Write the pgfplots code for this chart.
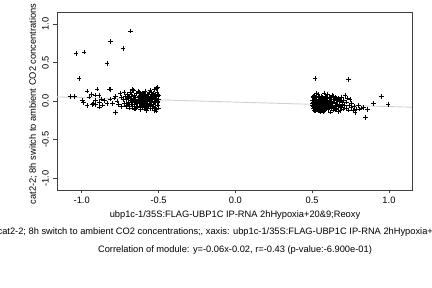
\documentclass[border=0pt]{standalone}
\usepackage{pgfplots}
\pgfplotsset{compat=1.18}
\usepackage{fontspec}
\setmainfont{Liberation Sans}
\begin{document}
\fontsize{9.3bp}{11bp}\selectfont
\begin{tikzpicture}[x=1bp,y=1bp]
\useasboundingbox (0,0) rectangle (432,288);
\clip (0,0) rectangle (432,288);
\begin{axis}[
  at={(57bp,98bp)}, anchor=south west,
  scale only axis, width=355bp, height=178bp,
  xmin=-1.161, xmax=1.150, ymin=-1.152, ymax=1.156,
  axis line style={black!75, line width=0.6bp},
  tick style={black!75, line width=0.6bp},
  tick align=outside, major tick length=3.5bp,
  xtick={-1,-0.5,0,0.5,1}, xticklabels={-1.0,-0.5,0.0,0.5,1.0},
  ytick={-1,-0.5,0,0.5,1}, yticklabels={-1.0,-0.5,0.0,0.5,1.0},
  xtick pos=bottom, ytick pos=left,
  xticklabel style={font=\fontsize{9.3bp}{11bp}\selectfont, anchor=center, yshift=-7bp},
  yticklabel style={font=\fontsize{9.3bp}{11bp}\selectfont, xshift=-8bp, rotate=90, anchor=center},
  clip=true,
]
\addplot[only marks, mark=+, mark size=2.3bp, black, line width=0.6bp] table {
-1.074 0.062
-1.046 0.064
-0.996 0.010
-0.987 -0.015
-0.965 0.130
-0.965 -0.060
-0.952 0.054
-0.937 0.084
-0.930 -0.040
-0.926 -0.030
-0.909 0.080
-0.909 0.015
-0.909 -0.045
-0.900 0.157
-0.887 0.070
-0.883 -0.075
-0.885 -0.020
-0.870 0.030
-0.865 -0.050
-0.850 0.010
-0.835 -0.030
-0.818 0.157
-0.813 0.150
-0.815 0.030
-0.800 -0.030
-0.790 0.040
-0.779 -0.144
-0.780 0.060
-0.770 0.000
-0.760 -0.040
-0.750 0.100
-0.745 0.050
-0.740 -0.070
-0.730 0.020
-0.725 0.110
-0.720 -0.030
-1.037 0.615
-0.985 0.637
-0.811 0.770
-0.681 0.910
-0.731 0.680
-0.835 0.487
-1.017 0.295
-0.712 0.021
-0.705 -0.052
-0.701 0.083
-0.698 -0.011
-0.694 0.044
-0.690 -0.088
-0.687 0.010
-0.683 0.121
-0.680 -0.035
-0.676 0.062
-0.673 -0.004
-0.670 -0.067
-0.667 0.035
-0.664 0.140
-0.661 -0.021
-0.658 0.078
-0.655 -0.103
-0.652 0.015
-0.649 0.050
-0.646 -0.046
-0.643 0.099
-0.640 0.003
-0.637 -0.078
-0.634 0.029
-0.631 0.125
-0.628 -0.030
-0.625 0.068
-0.622 -0.009
-0.619 0.040
-0.616 -0.112
-0.613 0.087
-0.610 -0.055
-0.607 0.012
-0.604 0.106
-0.601 -0.026
-0.598 0.054
-0.595 -0.084
-0.592 0.022
-0.589 0.131
-0.586 -0.040
-0.583 0.073
-0.580 -0.002
-0.577 -0.120
-0.574 0.046
-0.571 0.092
-0.568 -0.060
-0.565 0.018
-0.562 0.115
-0.559 -0.033
-0.556 0.060
-0.553 -0.095
-0.550 0.006
-0.547 0.083
-0.544 -0.018
-0.541 0.037
-0.538 -0.071
-0.535 0.102
-0.532 -0.045
-0.529 0.025
-0.526 0.150
-0.523 -0.008
-0.520 0.066
-0.517 -0.128
-0.514 0.043
-0.511 -0.052
-0.508 0.095
-0.505 0.001
-0.502 -0.089
-0.500 0.030
-0.618 0.009
-0.612 -0.044
-0.606 0.076
-0.600 0.031
-0.594 -0.013
-0.588 0.057
-0.582 -0.066
-0.576 0.011
-0.570 -0.028
-0.564 0.089
-0.558 0.027
-0.552 -0.050
-0.546 0.052
-0.540 0.004
-0.534 -0.036
-0.528 0.071
-0.522 -0.075
-0.516 0.013
-0.510 0.120
-0.504 -0.021
-0.620 -0.061
-0.596 0.101
-0.573 -0.091
-0.549 0.118
-0.525 0.036
-0.503 0.059
-0.515 -0.106
-0.539 -0.097
-0.561 -0.006
-0.585 0.025
-0.609 -0.017
-0.633 0.056
-0.657 -0.041
-0.679 0.095
-0.701 0.047
-0.508 0.180
-0.513 0.165
-0.530 -0.118
-0.556 0.135
-0.592 -0.104
-0.627 0.110
-0.650 -0.095
-0.668 0.152
-0.688 0.063
-0.710 -0.073
-0.502 0.075
-0.507 -0.048
-0.518 0.090
-0.527 -0.020
-0.543 0.064
-0.551 -0.073
-0.567 0.041
-0.579 -0.046
-0.591 0.084
-0.603 -0.070
-0.615 0.033
-0.641 -0.022
-0.662 0.028
-0.693 -0.040
-0.716 0.058
0.502 -0.031
0.505 0.045
0.507 -0.098
0.510 -0.012
0.512 0.078
0.515 -0.061
0.517 0.010
0.520 -0.130
0.522 -0.040
0.525 0.030
0.527 -0.085
0.530 0.096
0.532 -0.020
0.535 -0.067
0.537 0.018
0.540 -0.110
0.542 -0.045
0.545 0.058
0.547 -0.005
0.550 -0.076
0.552 0.034
0.555 -0.140
0.557 -0.028
0.560 0.069
0.562 -0.054
0.565 0.005
0.567 -0.093
0.570 -0.036
0.572 0.041
0.575 -0.071
0.577 0.104
0.580 -0.014
0.582 -0.120
0.585 0.022
0.587 -0.049
0.590 0.063
0.592 -0.082
0.595 -0.002
0.597 -0.059
0.600 0.037
0.603 -0.106
0.606 -0.025
0.609 0.050
0.612 -0.068
0.615 0.011
0.618 -0.143
0.621 -0.038
0.624 0.027
0.627 -0.090
0.630 0.076
0.633 -0.050
0.636 -0.008
0.640 -0.116
0.644 0.020
0.648 -0.061
0.652 0.045
0.656 -0.030
0.660 -0.097
0.664 0.006
0.668 -0.072
0.672 0.031
0.676 -0.046
0.680 -0.125
0.684 0.000
0.688 -0.082
0.692 0.054
0.696 -0.040
0.700 -0.101
0.705 0.015
0.710 -0.058
0.715 0.072
0.720 -0.090
0.503 0.010
0.506 -0.070
0.509 0.060
0.513 -0.035
0.516 -0.118
0.519 0.024
0.523 -0.078
0.526 -0.003
0.529 0.049
0.533 -0.095
0.536 -0.032
0.539 0.084
0.543 -0.011
0.546 -0.128
0.549 0.015
0.553 -0.060
0.556 0.043
0.559 -0.088
0.563 -0.018
0.566 0.028
0.569 -0.065
0.573 -0.137
0.576 0.007
0.579 -0.043
0.583 0.052
0.586 -0.101
0.589 -0.022
0.593 0.033
0.596 -0.078
0.599 -0.048
0.504 -0.055
0.511 0.032
0.518 -0.024
0.524 0.067
0.531 -0.047
0.538 -0.080
0.544 0.025
0.551 -0.003
0.558 -0.114
0.564 0.054
0.571 -0.008
0.578 -0.092
0.584 -0.034
0.591 0.014
0.598 0.088
0.605 -0.084
0.611 -0.015
0.617 0.040
0.623 -0.065
0.629 -0.023
0.635 0.060
0.641 -0.079
0.647 -0.010
0.653 -0.108
0.659 0.035
0.665 -0.050
0.671 -0.134
0.677 0.022
0.685 -0.064
0.693 -0.020
0.725 -0.010
0.730 0.040
0.735 -0.115
0.740 -0.060
0.746 0.020
0.752 -0.085
0.758 -0.030
0.765 -0.120
0.772 -0.070
0.780 -0.150
0.790 -0.100
0.800 -0.060
0.810 -0.100
0.820 -0.090
0.835 -0.080
0.848 -0.209
0.860 -0.105
0.518 0.295
0.735 0.280
0.952 0.062
0.995 -0.040
0.898 -0.030
};
\addplot[color=black!18, line width=0.9bp] coordinates {(-1.161,0.0553) (1.150,-0.0787)};
\end{axis}
\node[rotate=90, anchor=center] at (33,184) {cat2-2; 8h switch to ambient CO2 concentrations};
\node[anchor=center] at (235,73) {ubp1c-1/35S:FLAG-UBP1C IP-RNA 2hHypoxia+20\&9;Reoxy};
\node[anchor=center] at (227,56) {yaxis: cat2-2; 8h switch to ambient CO2 concentrations;, xaxis: ubp1c-1/35S:FLAG-UBP1C IP-RNA 2hHypoxia+20\&9;Reoxy};
\node[anchor=center] at (235,38) {Correlation of module: y=-0.06x-0.02, r=-0.43 (p-value:-6.900e-01)};
\end{tikzpicture}
\end{document}
